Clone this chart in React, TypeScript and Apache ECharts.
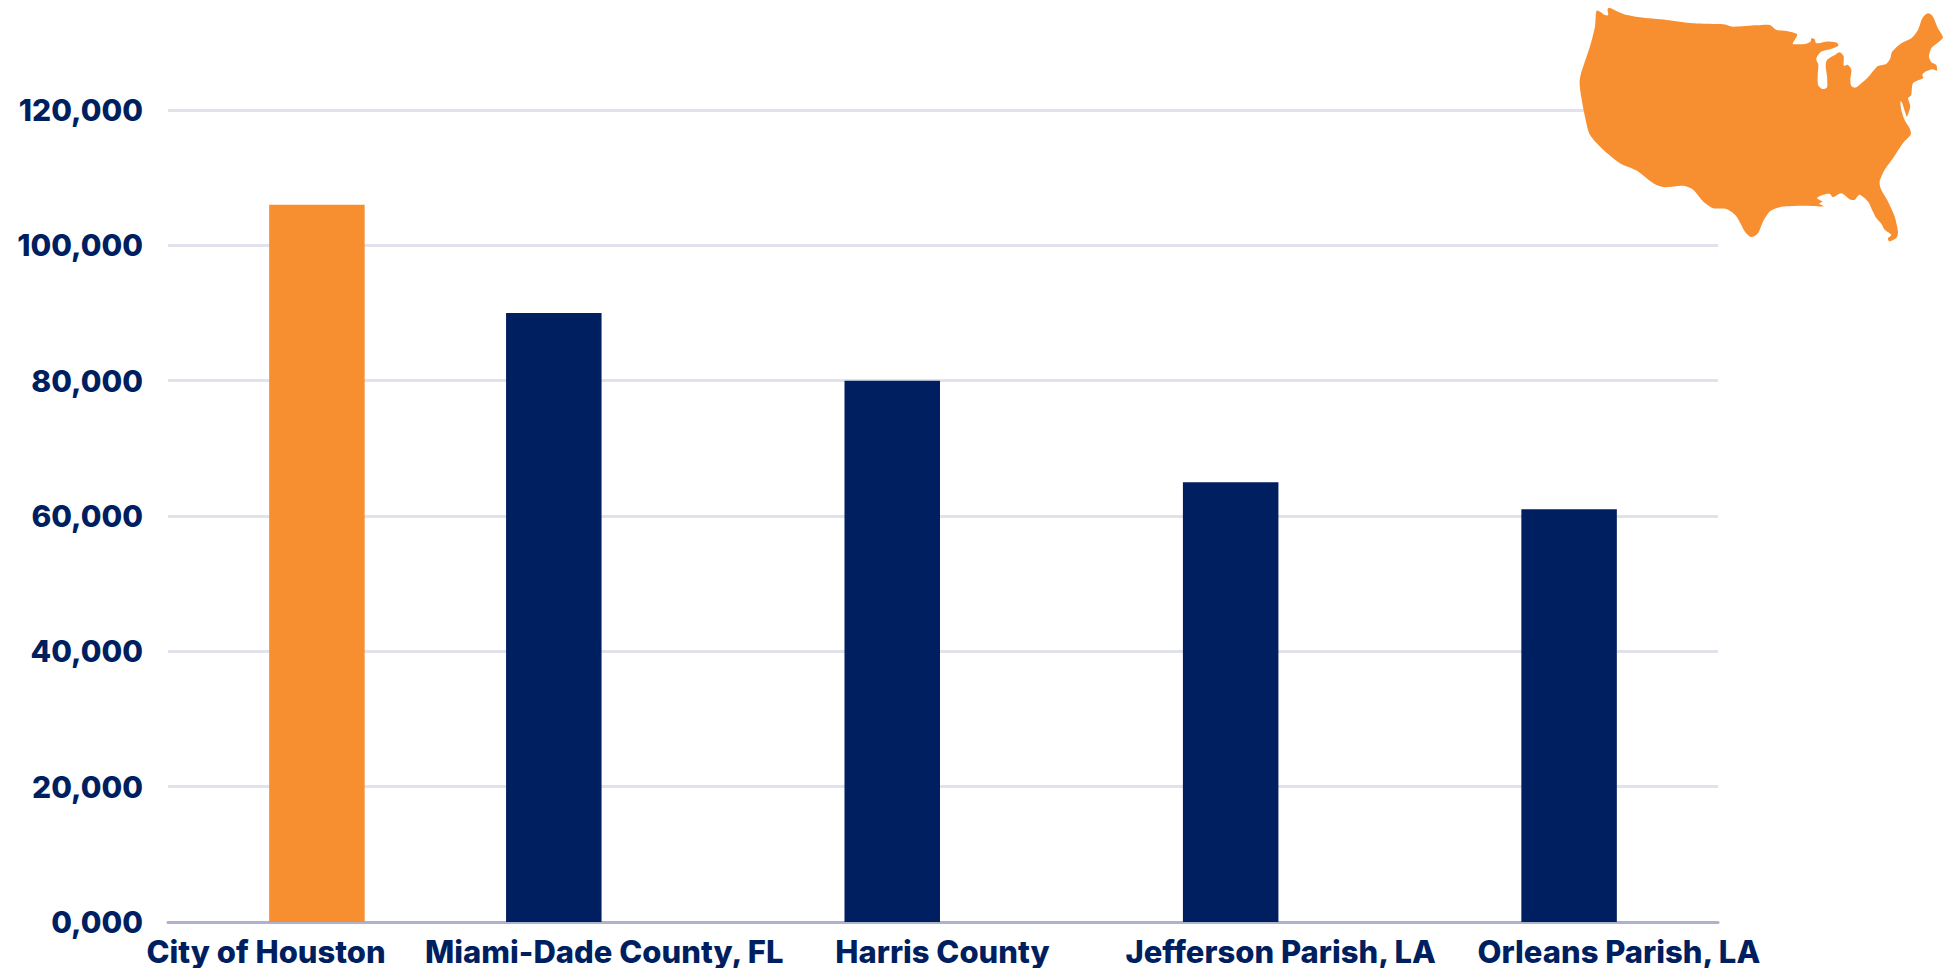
import React, { useEffect, useRef } from "react";
import * as echarts from "echarts";

const categories = ["City of Houston", "Miami-Dade County, FL", "Harris County", "Jefferson Parish, LA", "Orleans Parish, LA"];
const values = [106000, 90000, 80000, 65000, 61000];
const barSlots = [0.44, 1.14, 2.14, 3.14, 4.14];
const yTicks: Record<number, string> = {
  0: "0,000", 20000: "20,000", 40000: "40,000", 60000: "60,000",
  80000: "80,000", 100000: "100,000", 120000: "120,000",
};
const ORANGE = "#f78f31";
const NAVY = "#001f60";
const barColors = [ORANGE, NAVY, NAVY, NAVY, NAVY];

// outline of the contiguous US
const mapOutline: number[][] = [
  [170,32],[195,45],[205,45],[203,28],[212,25],[250,42],[300,52],[380,60],[460,70],[550,73],[580,80],[650,76],[690,75],[710,90],[740,93],[772,103],[760,128],[762,133],[795,132],[812,125],[815,115],[825,118],[830,130],[860,125],[890,128],[895,138],[870,148],[845,155],[832,170],[830,180],[836,195],[834,225],[835,255],[848,267],[862,262],[862,230],[858,200],[862,180],[885,165],[900,157],[912,170],[912,197],[925,195],[935,210],[932,240],[935,258],[948,263],[965,250],[985,232],[1003,210],[1015,198],[1040,192],[1052,175],[1058,155],[1085,130],[1115,115],[1135,90],[1148,55],[1165,40],[1180,50],[1195,85],[1210,112],[1195,128],[1175,145],[1168,170],[1175,187],[1190,195],[1192,212],[1178,208],[1158,215],[1148,225],[1150,235],[1120,250],[1115,285],[1105,295],[1112,320],[1102,350],[1096,335],[1088,310],[1082,305],[1085,330],[1095,360],[1110,385],[1113,405],[1090,430],[1060,475],[1035,510],[1020,545],[1025,570],[1045,605],[1065,650],[1075,695],[1070,715],[1050,725],[1045,715],[1055,705],[1035,690],[1025,672],[1010,655],[995,625],[985,605],[960,585],[945,600],[930,598],[905,580],[880,592],[870,582],[850,585],[832,595],[848,605],[838,612],[850,620],[780,618],[720,622],[690,635],[670,665],[655,700],[635,712],[615,695],[590,650],[560,628],[520,625],[490,605],[460,570],[430,558],[375,562],[340,550],[290,512],[240,490],[190,450],[150,405],[135,350],[120,265],[122,225],[150,140],[165,80],
];

function outlineToPath(pts: number[][]): string {
  const n = pts.length;
  const k = 1 / 8;
  let d = `M${pts[0][0]} ${pts[0][1]}`;
  for (let i = 0; i < n; i++) {
    const p0 = pts[(i - 1 + n) % n];
    const p1 = pts[i];
    const p2 = pts[(i + 1) % n];
    const p3 = pts[(i + 2) % n];
    d += `C${p1[0] + (p2[0] - p0[0]) * k} ${p1[1] + (p2[1] - p0[1]) * k} ${p2[0] - (p3[0] - p1[0]) * k} ${p2[1] - (p3[1] - p1[1]) * k} ${p2[0]} ${p2[1]}`;
  }
  return d + "Z";
}

echarts.graphic.registerShape("usmap", echarts.graphic.extendPath(outlineToPath(mapOutline), {}) as any);

const FONT = "Inter";

export default function App() {
  const ref = useRef<HTMLDivElement>(null);
  useEffect(() => {
    document.body.style.margin = "0";
    const chart = echarts.init(ref.current!, null, { renderer: "svg" });
    chart.setOption({
      animation: false,
      backgroundColor: "#ffffff",
      grid: [
        { left: 168, width: 1550, top: 110, height: 812 },
        { left: 97, width: 1691, top: 110, height: 812 },
      ],
      xAxis: [
        {
          type: "value", gridIndex: 0, min: 0, max: 4.58,
          axisLine: { show: true, onZero: false, lineStyle: { color: "#aeb2cd", width: 3 } },
          axisTick: { show: false }, axisLabel: { show: false }, splitLine: { show: false },
        },
        {
          type: "category", gridIndex: 1, data: categories,
          axisLine: { show: false }, axisTick: { show: false },
          axisLabel: { show: true, interval: 0, margin: 16, lineHeight: 26, color: NAVY, fontFamily: FONT, fontWeight: 800, fontSize: 31, hideOverlap: false },
        },
      ],
      yAxis: [
        {
          type: "value", gridIndex: 0, min: 0, max: 120000, interval: 20000,
          axisLine: { show: false }, axisTick: { show: false },
          axisLabel: { margin: 25, color: NAVY, fontFamily: FONT, fontWeight: 800, fontSize: 30, formatter: (v: number) => yTicks[v] },
          splitLine: { show: true, lineStyle: { color: "#e2e2ec", width: 3 } },
        },
        { type: "value", gridIndex: 1, min: 0, max: 120000, show: false },
      ],
      series: [
        {
          type: "bar", xAxisIndex: 0, yAxisIndex: 0, barWidth: 95.5,
          data: values.map((v, i) => ({ value: [barSlots[i], v], itemStyle: { color: barColors[i] } })),
        },
      ],
      graphic: [
        { type: "usmap", x: 1540, y: 0, scaleX: 1 / 3, scaleY: 1 / 3, z: 100, style: { fill: ORANGE } },
      ],
    });
    return () => chart.dispose();
  }, []);
  return <div ref={ref} style={{ position: "absolute", left: 0, top: 0, width: 1946, height: 968 }} />;
}
